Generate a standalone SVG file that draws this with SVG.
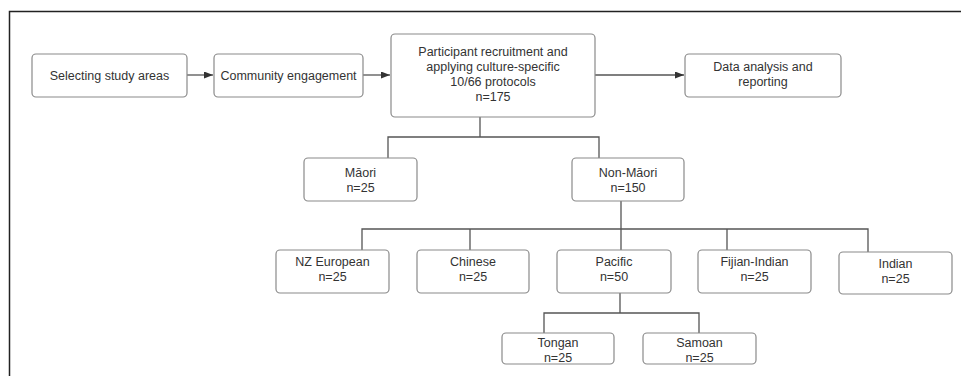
<svg xmlns="http://www.w3.org/2000/svg" width="961" height="376" viewBox="0 0 961 376">
<style>
.box{fill:#fff;stroke:#8a8a8a;stroke-width:1.2}
text{font-family:"Liberation Sans",Arial,sans-serif;font-size:12.5px;fill:#333;text-anchor:middle}
.ln{fill:none;stroke:#555;stroke-width:1.3}
</style>
<defs>
<marker id="ah" markerWidth="9" markerHeight="7" refX="9" refY="3.5" orient="auto" markerUnits="userSpaceOnUse">
<path d="M0,0 L9,3.5 L0,7 Z" fill="#333"/>
</marker>
</defs>
<rect width="961" height="376" fill="#fff"/>
<path d="M9.5,376 V11.5 H961" fill="none" stroke="#222" stroke-width="1.5"/>
<g id="connectors">
<line class="ln" x1="187" y1="75" x2="213" y2="75" marker-end="url(#ah)"/>
<line class="ln" x1="363" y1="75" x2="390" y2="75" marker-end="url(#ah)"/>
<line class="ln" x1="595" y1="75" x2="684" y2="75" marker-end="url(#ah)"/>
<path class="ln" d="M480,117 V137 M388,158 V137 H599 V158"/>
<path class="ln" d="M621,201 V229 M362,250 V229 H868 V252 M470,229 V250 M621,229 V250 M727,229 V250"/>
<path class="ln" d="M620,293 V313 M544,333 V313 H699 V333"/>
</g>
<g id="n-selecting"><rect class="box" x="32" y="54" width="155" height="43" rx="4"/><text x="109.5" y="80">Selecting study areas</text></g>
<g id="n-community"><rect class="box" x="214" y="54" width="149" height="43" rx="4"/><text x="288.5" y="80">Community engagement</text></g>
<g id="n-participant"><rect class="box" x="391" y="34" width="204" height="83" rx="4"/>
<text x="493" y="56">Participant recruitment and</text><text x="493" y="71">applying culture-specific</text><text x="493" y="86">10/66 protocols</text><text x="493" y="101">n=175</text></g>
<g id="n-data"><rect class="box" x="685" y="54" width="156" height="43" rx="4"/><text x="763" y="71">Data analysis and</text><text x="763" y="86">reporting</text></g>
<g id="n-maori"><rect class="box" x="304" y="158" width="113" height="43" rx="4"/><text x="360.5" y="177">Māori</text><text x="360.5" y="192">n=25</text></g>
<g id="n-nonmaori"><rect class="box" x="572" y="158" width="112" height="43" rx="4"/><text x="628" y="177">Non-Māori</text><text x="628" y="192">n=150</text></g>
<g id="n-nzeuropean"><rect class="box" x="276" y="250" width="113" height="43" rx="4"/><text x="332.5" y="266">NZ European</text><text x="332.5" y="281">n=25</text></g>
<g id="n-chinese"><rect class="box" x="417" y="250" width="112" height="43" rx="4"/><text x="473" y="266">Chinese</text><text x="473" y="281">n=25</text></g>
<g id="n-pacific"><rect class="box" x="557" y="250" width="114" height="43" rx="4"/><text x="614" y="266">Pacific</text><text x="614" y="281">n=50</text></g>
<g id="n-fijianindian"><rect class="box" x="698" y="250" width="113" height="43" rx="4"/><text x="754.5" y="266">Fijian-Indian</text><text x="754.5" y="281">n=25</text></g>
<g id="n-indian"><rect class="box" x="839" y="252" width="113" height="42" rx="4"/><text x="895.5" y="268">Indian</text><text x="895.5" y="283">n=25</text></g>
<g id="n-tongan"><rect class="box" x="502" y="333" width="112" height="31" rx="4"/><text x="558" y="347">Tongan</text><text x="558" y="362">n=25</text></g>
<g id="n-samoan"><rect class="box" x="643" y="333" width="113" height="31" rx="4"/><text x="699.5" y="347">Samoan</text><text x="699.5" y="362">n=25</text></g>
</svg>
